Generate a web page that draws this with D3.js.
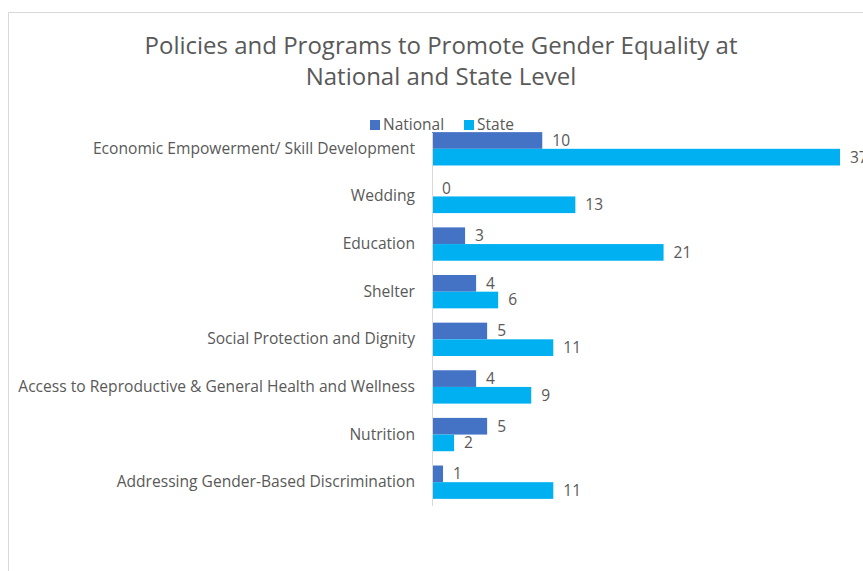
<!DOCTYPE html>
<html>
<head>
<meta charset="utf-8">
<script src="https://cdn.jsdelivr.net/npm/d3@7"></script>
<style>
  body { margin: 0; background: #fff; }
  text { font-family: "Open Sans", "Noto Sans", sans-serif; fill: #595959; }
</style>
</head>
<body>
<div id="vis"></div>
<script>
// data
var categories = [
  "Economic Empowerment/ Skill Development",
  "Wedding",
  "Education",
  "Shelter",
  "Social Protection and Dignity",
  "Access to Reproductive & General Health and Wellness",
  "Nutrition",
  "Addressing Gender-Based Discrimination"
];
var nationalValues = [10, 0, 3, 4, 5, 4, 5, 1];
var stateValues = [37, 13, 21, 6, 11, 9, 2, 11];
var seriesNames = ["National", "State"];
var seriesColors = ["#4472C4", "#00B0F0"];
var titleLines = ["Policies and Programs to Promote Gender Equality at", "National and State Level"];

var W = 863, H = 571;
var svg = d3.select("#vis").append("svg")
  .attr("width", W)
  .attr("height", H);

// chart frame (runs off the right and bottom edges)
svg.append("rect")
  .attr("x", 8.5).attr("y", 12.5)
  .attr("width", 900).attr("height", 600)
  .attr("fill", "none")
  .attr("stroke", "#d9d9d9");

// title
svg.selectAll("text.title")
  .data(titleLines)
  .enter().append("text")
  .attr("class", "title")
  .attr("x", 441)
  .attr("y", function(d, i) { return 54 + i * 31; })
  .attr("text-anchor", "middle")
  .style("font-size", "24px")
  .text(function(d) { return d; });

// scales
var x = d3.scaleLinear().domain([0, 37]).range([432, 840]);
var y = d3.scaleBand().domain(categories).range([125, 506]).paddingInner(0.3).paddingOuter(0.15);
var sub = d3.scaleBand().domain(seriesNames).range([0, y.bandwidth()]);

var rows = categories.map(function(c, i) {
  return { cat: c, vals: [nationalValues[i], stateValues[i]] };
});

var g = svg.selectAll("g.row")
  .data(rows)
  .enter().append("g")
  .attr("class", "row")
  .attr("transform", function(d) { return "translate(0," + y(d.cat) + ")"; });

g.selectAll("rect")
  .data(function(d) { return d.vals.map(function(v, k) { return { v: v, k: k }; }); })
  .enter().append("rect")
  .attr("x", x(0))
  .attr("y", function(d) { return sub(seriesNames[d.k]); })
  .attr("width", function(d) { return x(d.v) - x(0); })
  .attr("height", sub.bandwidth())
  .attr("fill", function(d) { return seriesColors[d.k]; });

// value labels
g.selectAll("text.val")
  .data(function(d) { return d.vals.map(function(v, k) { return { v: v, k: k }; }); })
  .enter().append("text")
  .attr("class", "val")
  .attr("x", function(d) { return x(d.v) + 10; })
  .attr("y", function(d) { return sub(seriesNames[d.k]) + sub.bandwidth() / 2; })
  .attr("dy", "0.35em")
  .style("font-size", "15.5px")
  .text(function(d) { return d.v; });

// category labels
var yAxis = d3.axisLeft(y).tickSize(0).tickPadding(17);
var ax = svg.append("g")
  .attr("transform", "translate(" + x(0) + ",0)")
  .call(yAxis);
ax.select(".domain").remove();
ax.selectAll("text")
  .style("font-size", "15.6px")
  .style("font-family", "\"Open Sans\", sans-serif")
  .attr("fill", "#595959");

// vertical axis line
svg.append("line")
  .attr("x1", x(0) + 0.5).attr("x2", x(0) + 0.5)
  .attr("y1", 133).attr("y2", 506)
  .attr("stroke", "#d9d9d9");

// legend
var legendX = [370, 464];
var lg = svg.selectAll("g.legend")
  .data(seriesNames)
  .enter().append("g")
  .attr("class", "legend")
  .attr("transform", function(d, i) { return "translate(" + legendX[i] + ",120)"; });
lg.append("rect")
  .attr("width", 10).attr("height", 10)
  .attr("fill", function(d, i) { return seriesColors[i]; });
lg.append("text")
  .attr("x", 13).attr("y", 5)
  .attr("dy", "0.35em")
  .style("font-size", "15.5px")
  .text(function(d) { return d; });
</script>
</body>
</html>
